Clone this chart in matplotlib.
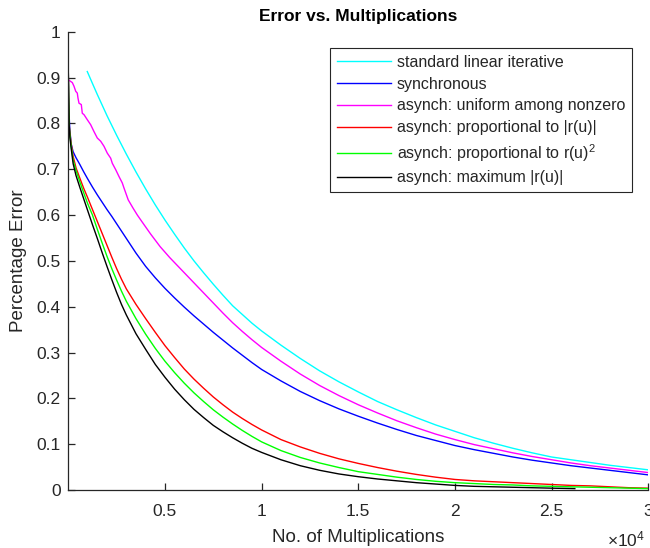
import matplotlib
matplotlib.use('Agg')
import matplotlib.pyplot as plt

plt.rcParams['font.family'] = ['Liberation Sans', 'DejaVu Sans']
plt.rcParams['mathtext.fontset'] = 'custom'
plt.rcParams['mathtext.rm'] = 'Liberation Sans'
plt.rcParams['mathtext.it'] = 'Liberation Sans:italic'

# ---------------- data ----------------
labels = [
    'standard linear iterative',
    'synchronous',
    'asynch: uniform among nonzero',
    'asynch: proportional to |r(u)|',
    'asynch: proportional to r(u)$^2$',
    'asynch: maximum |r(u)|',
]
colors = ['#00ffff', '#0000ff', '#ff00ff', '#ff0000', '#00ff00', '#000000']

std_x = [982, 1250, 1500, 1750, 2000, 2500, 3000, 3500, 4000, 4500, 5000, 5500,
         6000, 6500, 7000, 7500, 8000, 8500, 9000, 9500, 10000, 11000, 12000,
         13000, 14000, 15000, 16000, 17000, 18000, 19000, 20000, 21000, 22000,
         23000, 24000, 25000, 26000, 27000, 28000, 29000, 30000]
std_y = [0.913, 0.887, 0.863, 0.840, 0.817, 0.774, 0.733, 0.694, 0.657, 0.622,
         0.589, 0.558, 0.528, 0.500, 0.474, 0.449, 0.425, 0.402, 0.383, 0.364,
         0.347, 0.316, 0.287, 0.260, 0.236, 0.214, 0.193, 0.175, 0.158, 0.142,
         0.128, 0.114, 0.102, 0.091, 0.081, 0.072, 0.066, 0.060, 0.054, 0.049,
         0.044]

sync_x = [0, 15, 40, 80, 150, 250, 400, 600, 800, 1000, 1250, 1500, 1750, 2000,
          2250, 2500, 2750, 3000, 3500, 4000, 4500, 5000, 5500, 6000, 6500, 7000,
          7500, 8000, 8500, 9000, 9500, 10000, 11000, 12000, 13000, 14000, 15000,
          16000, 17000, 18000, 19000, 20000, 21000, 22000, 23000, 24000, 25000,
          26000, 27000, 28000, 29000, 30000]
sync_y = [0.912, 0.86, 0.82, 0.785, 0.755, 0.738, 0.725, 0.710, 0.694, 0.679,
          0.661, 0.644, 0.628, 0.612, 0.597, 0.581, 0.565, 0.549, 0.517, 0.488,
          0.463, 0.440, 0.419, 0.399, 0.380, 0.362, 0.344, 0.327, 0.310, 0.294,
          0.278, 0.263, 0.238, 0.215, 0.195, 0.177, 0.161, 0.146, 0.132, 0.119,
          0.108, 0.097, 0.088, 0.080, 0.072, 0.065, 0.059, 0.053, 0.048, 0.043,
          0.038, 0.033]

unif_x = [0, 36, 207, 295, 383, 465, 502, 553, 672, 724, 812, 982, 1158, 1329,
          1500, 1675, 1846, 2017, 2192, 2275, 2451, 2622, 2792, 2880, 3100, 3350,
          3570, 3800, 4000, 4250, 4500, 4750, 5000, 5250, 5500, 6000, 6500, 7000,
          7500, 8000, 8500, 9000, 9500, 10000, 10500, 11000, 12000, 13000, 14000,
          15000, 16000, 17000, 18000, 19000, 20000, 21000, 22000, 23000, 24000,
          25000, 26000, 27000, 28000, 29000, 30000]
unif_y = [0.895, 0.894, 0.889, 0.881, 0.870, 0.866, 0.855, 0.844, 0.841, 0.822,
          0.819, 0.808, 0.797, 0.782, 0.768, 0.761, 0.750, 0.735, 0.724, 0.713,
          0.699, 0.684, 0.670, 0.659, 0.633, 0.615, 0.600, 0.586, 0.574, 0.559,
          0.545, 0.531, 0.519, 0.507, 0.496, 0.474, 0.452, 0.430, 0.408, 0.386,
          0.365, 0.346, 0.328, 0.311, 0.296, 0.281, 0.253, 0.228, 0.206, 0.186,
          0.168, 0.151, 0.136, 0.122, 0.110, 0.099, 0.090, 0.081, 0.073, 0.066,
          0.059, 0.053, 0.048, 0.043, 0.038]

prop_x = [0, 15, 40, 80, 150, 250, 400, 600, 800, 1000, 1250, 1500, 1750, 2000,
          2250, 2500, 2750, 3000, 3500, 4000, 4500, 5000, 5500, 6000, 6500, 7000,
          7500, 8000, 8500, 9000, 9500, 10000, 11000, 12000, 13000, 14000, 15000,
          16000, 17000, 18000, 19000, 20000, 21000, 22000, 23000, 24000, 25000,
          26000, 27000, 28000, 29000, 30000]
prop_y = [0.912, 0.86, 0.80, 0.78, 0.755, 0.728, 0.703, 0.680, 0.658, 0.638,
          0.612, 0.586, 0.560, 0.534, 0.508, 0.483, 0.460, 0.439, 0.405, 0.374,
          0.344, 0.315, 0.289, 0.264, 0.242, 0.222, 0.203, 0.186, 0.170, 0.156,
          0.143, 0.131, 0.110, 0.094, 0.080, 0.068, 0.058, 0.049, 0.041, 0.034,
          0.028, 0.023, 0.020, 0.018, 0.016, 0.014, 0.012, 0.010, 0.009, 0.007,
          0.005, 0.004]

sq_x = [0, 15, 40, 80, 150, 250, 400, 600, 800, 1000, 1250, 1500, 1750, 2000,
        2250, 2500, 2750, 3000, 3500, 4000, 4500, 5000, 5500, 6000, 6500, 7000,
        7500, 8000, 8500, 9000, 9500, 10000, 11000, 12000, 13000, 14000, 15000,
        16000, 17000, 18000, 19000, 20000, 21000, 22000, 23000, 24000, 25000,
        26000, 27000, 28000, 29000, 30000]
sq_y = [0.912, 0.86, 0.80, 0.775, 0.75, 0.72, 0.697, 0.672, 0.648, 0.625, 0.600,
        0.569, 0.539, 0.510, 0.483, 0.458, 0.434, 0.412, 0.374, 0.340, 0.309,
        0.281, 0.256, 0.233, 0.212, 0.193, 0.175, 0.159, 0.144, 0.130, 0.117,
        0.105, 0.086, 0.071, 0.059, 0.049, 0.040, 0.034, 0.028, 0.023, 0.019,
        0.016, 0.014, 0.012, 0.011, 0.009, 0.008, 0.007, 0.006, 0.005, 0.004,
        0.003]

max_x = [0, 15, 40, 80, 150, 250, 400, 600, 800, 1000, 1250, 1500, 1750, 2000,
         2250, 2500, 2750, 3000, 3500, 4000, 4500, 5000, 5500, 6000, 6500, 7000,
         7500, 8000, 8500, 9000, 9500, 10000, 11000, 12000, 13000, 14000, 15000,
         16000, 17000, 18000, 19000, 20000, 21000, 22000, 23000, 24000, 25000,
         26200]
max_y = [0.912, 0.86, 0.80, 0.77, 0.745, 0.712, 0.686, 0.660, 0.635, 0.610,
         0.579, 0.549, 0.518, 0.488, 0.459, 0.431, 0.405, 0.382, 0.341, 0.307,
         0.274, 0.246, 0.220, 0.197, 0.176, 0.158, 0.141, 0.127, 0.114, 0.102,
         0.091, 0.082, 0.066, 0.053, 0.043, 0.035, 0.029, 0.024, 0.020, 0.016,
         0.013, 0.010, 0.008, 0.007, 0.006, 0.005, 0.004, 0.003]

xticks = [5000, 10000, 15000, 20000, 25000, 30000]
xticklabels = ['0.5', '1', '1.5', '2', '2.5', '3']
yticks = [0, 0.1, 0.2, 0.3, 0.4, 0.5, 0.6, 0.7, 0.8, 0.9, 1.0]
yticklabels = ['0', '0.1', '0.2', '0.3', '0.4', '0.5', '0.6', '0.7', '0.8', '0.9', '1']

series = [(std_x, std_y), (sync_x, sync_y), (unif_x, unif_y),
          (prop_x, prop_y), (sq_x, sq_y), (max_x, max_y)]

# ---------------- figure ----------------
axc = '#262626'
fig = plt.figure(figsize=(6.5, 5.48), dpi=100)
ax = fig.add_axes([68.3 / 650, 58 / 548, 580 / 650, 458.3 / 548])

for (xs, ys), c, lab in zip(series, colors, labels):
    ax.plot(xs, ys, color=c, lw=1.0, label=lab, solid_joinstyle='round')

ax.set_xlim(0, 30000)
ax.set_ylim(0, 1)
ax.set_xticks(xticks)
ax.set_xticklabels(xticklabels)
ax.set_yticks(yticks)
ax.set_yticklabels(yticklabels)

for s in ['top', 'right']:
    ax.spines[s].set_visible(False)
for s in ['left', 'bottom']:
    ax.spines[s].set_color(axc)
    ax.spines[s].set_linewidth(0.9)

ax.tick_params(axis='both', direction='in', length=5, width=0.9, color=axc,
               labelcolor=axc, labelsize=12.5)
ax.tick_params(axis='x', pad=10)
ax.tick_params(axis='y', pad=5.5)

ax.set_title('Error vs. Multiplications', fontsize=12.5, fontweight='bold',
             color='black', pad=8)
ax.set_xlabel('No. of Multiplications', fontsize=13.5, color=axc, labelpad=7)
ax.set_ylabel('Percentage Error', fontsize=13.5, color=axc, labelpad=7)

fig.text(607 / 650, 1 - 539 / 548, r'$\times$10$^{4}$', fontsize=12.5, color=axc,
         ha='left', va='center')

leg = ax.legend(loc='upper right', bbox_to_anchor=(632 / 650, 1 - 48.3 / 548),
                bbox_transform=fig.transFigure, borderaxespad=0, fontsize=11.5,
                frameon=True, fancybox=False, shadow=False, framealpha=1,
                handlelength=3.4, handletextpad=0.35, labelspacing=0.42,
                borderpad=0.42)
leg.get_frame().set_edgecolor(axc)
leg.get_frame().set_linewidth(0.8)
for t in leg.get_texts():
    t.set_color(axc)

fig.savefig('out.png', dpi=100)
